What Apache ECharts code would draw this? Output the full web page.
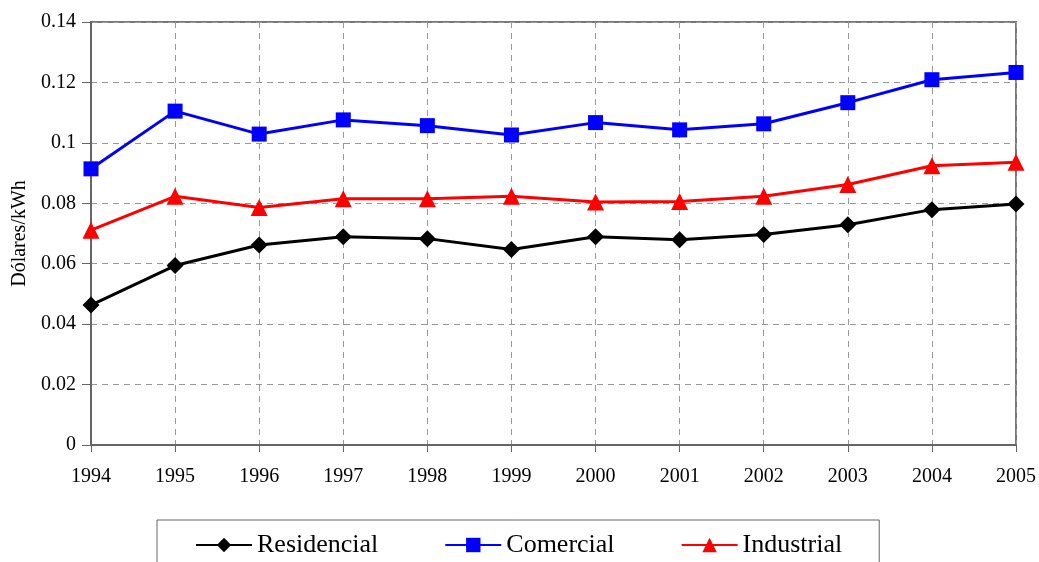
<!DOCTYPE html>
<html>
<head>
<meta charset="utf-8">
<script src="https://cdn.jsdelivr.net/npm/echarts@6/dist/echarts.min.js"></script>
<style>
  html, body { margin: 0; padding: 0; background: #fff; }
  #chart { width: 1039px; height: 562px; }
</style>
</head>
<body>
<div id="chart"></div>
<script>
const years = ['1994', '1995', '1996', '1997', '1998', '1999', '2000', '2001', '2002', '2003', '2004', '2005']
const residencial = [0.0463, 0.0594, 0.0662, 0.0689, 0.0683, 0.0647, 0.0689, 0.0679, 0.0697, 0.0729, 0.0779, 0.0798]
const comercial = [0.0914, 0.1105, 0.1029, 0.1076, 0.1057, 0.1026, 0.1067, 0.1043, 0.1063, 0.1133, 0.1209, 0.1233]
const industrial = [0.0711, 0.0823, 0.0786, 0.0815, 0.0815, 0.0823, 0.0804, 0.0806, 0.0823, 0.0862, 0.0924, 0.0936]

const font = '"Liberation Serif", "Times New Roman", serif'

const makeSeries = (name, data, color, symbol, size) => ({
  name,
  type: 'line',
  data,
  symbol,
  symbolSize: size,
  itemStyle: { color },
  lineStyle: { color, width: 3 },
  emphasis: { disabled: true },
  animation: false
})

const chart = echarts.init(document.getElementById('chart'))
chart.setOption({
  backgroundColor: '#fff',
  textStyle: { fontFamily: font },
  grid: {
    left: 91, right: 22, top: 22, bottom: 117,
    show: true, borderColor: '#777', borderWidth: 2
  },
  legend: {
    top: 520,
    left: 157,
    itemGap: 66,
    itemWidth: 56,
    itemHeight: 18,
    padding: [12, 37, 22, 38],
    borderColor: '#666',
    borderWidth: 1,
    textStyle: { fontFamily: font, fontSize: 26, color: '#000' },
    data: ['Residencial', 'Comercial', 'Industrial']
  },
  xAxis: {
    type: 'category',
    data: years,
    boundaryGap: false,
    axisLine: { lineStyle: { color: '#666', width: 2 } },
    axisTick: { show: true, length: 7, lineStyle: { color: '#666' } },
    axisLabel: { color: '#000', fontSize: 20, fontFamily: font, margin: 22 },
    splitLine: { show: true, lineStyle: { color: '#999', type: [6, 5], width: 1 } }
  },
  yAxis: {
    type: 'value',
    min: 0,
    max: 0.14,
    interval: 0.02,
    name: 'Dólares/kWh',
    nameLocation: 'middle',
    nameGap: 60,
    nameTextStyle: { color: '#000', fontSize: 20, fontFamily: font },
    axisLine: { show: true, lineStyle: { color: '#666', width: 2 } },
    axisTick: { show: true, length: 9, lineStyle: { color: '#666' } },
    axisLabel: { color: '#000', fontSize: 20, fontFamily: font, margin: 15 },
    splitLine: { show: true, lineStyle: { color: '#999', type: [6, 5], width: 1 } }
  },
  series: [
    makeSeries('Residencial', residencial, '#000000', 'diamond', 17),
    makeSeries('Comercial', comercial, '#0000ff', 'rect', 15),
    makeSeries('Industrial', industrial, '#ff0000', 'triangle', 17)
  ]
})
</script>
</body>
</html>
